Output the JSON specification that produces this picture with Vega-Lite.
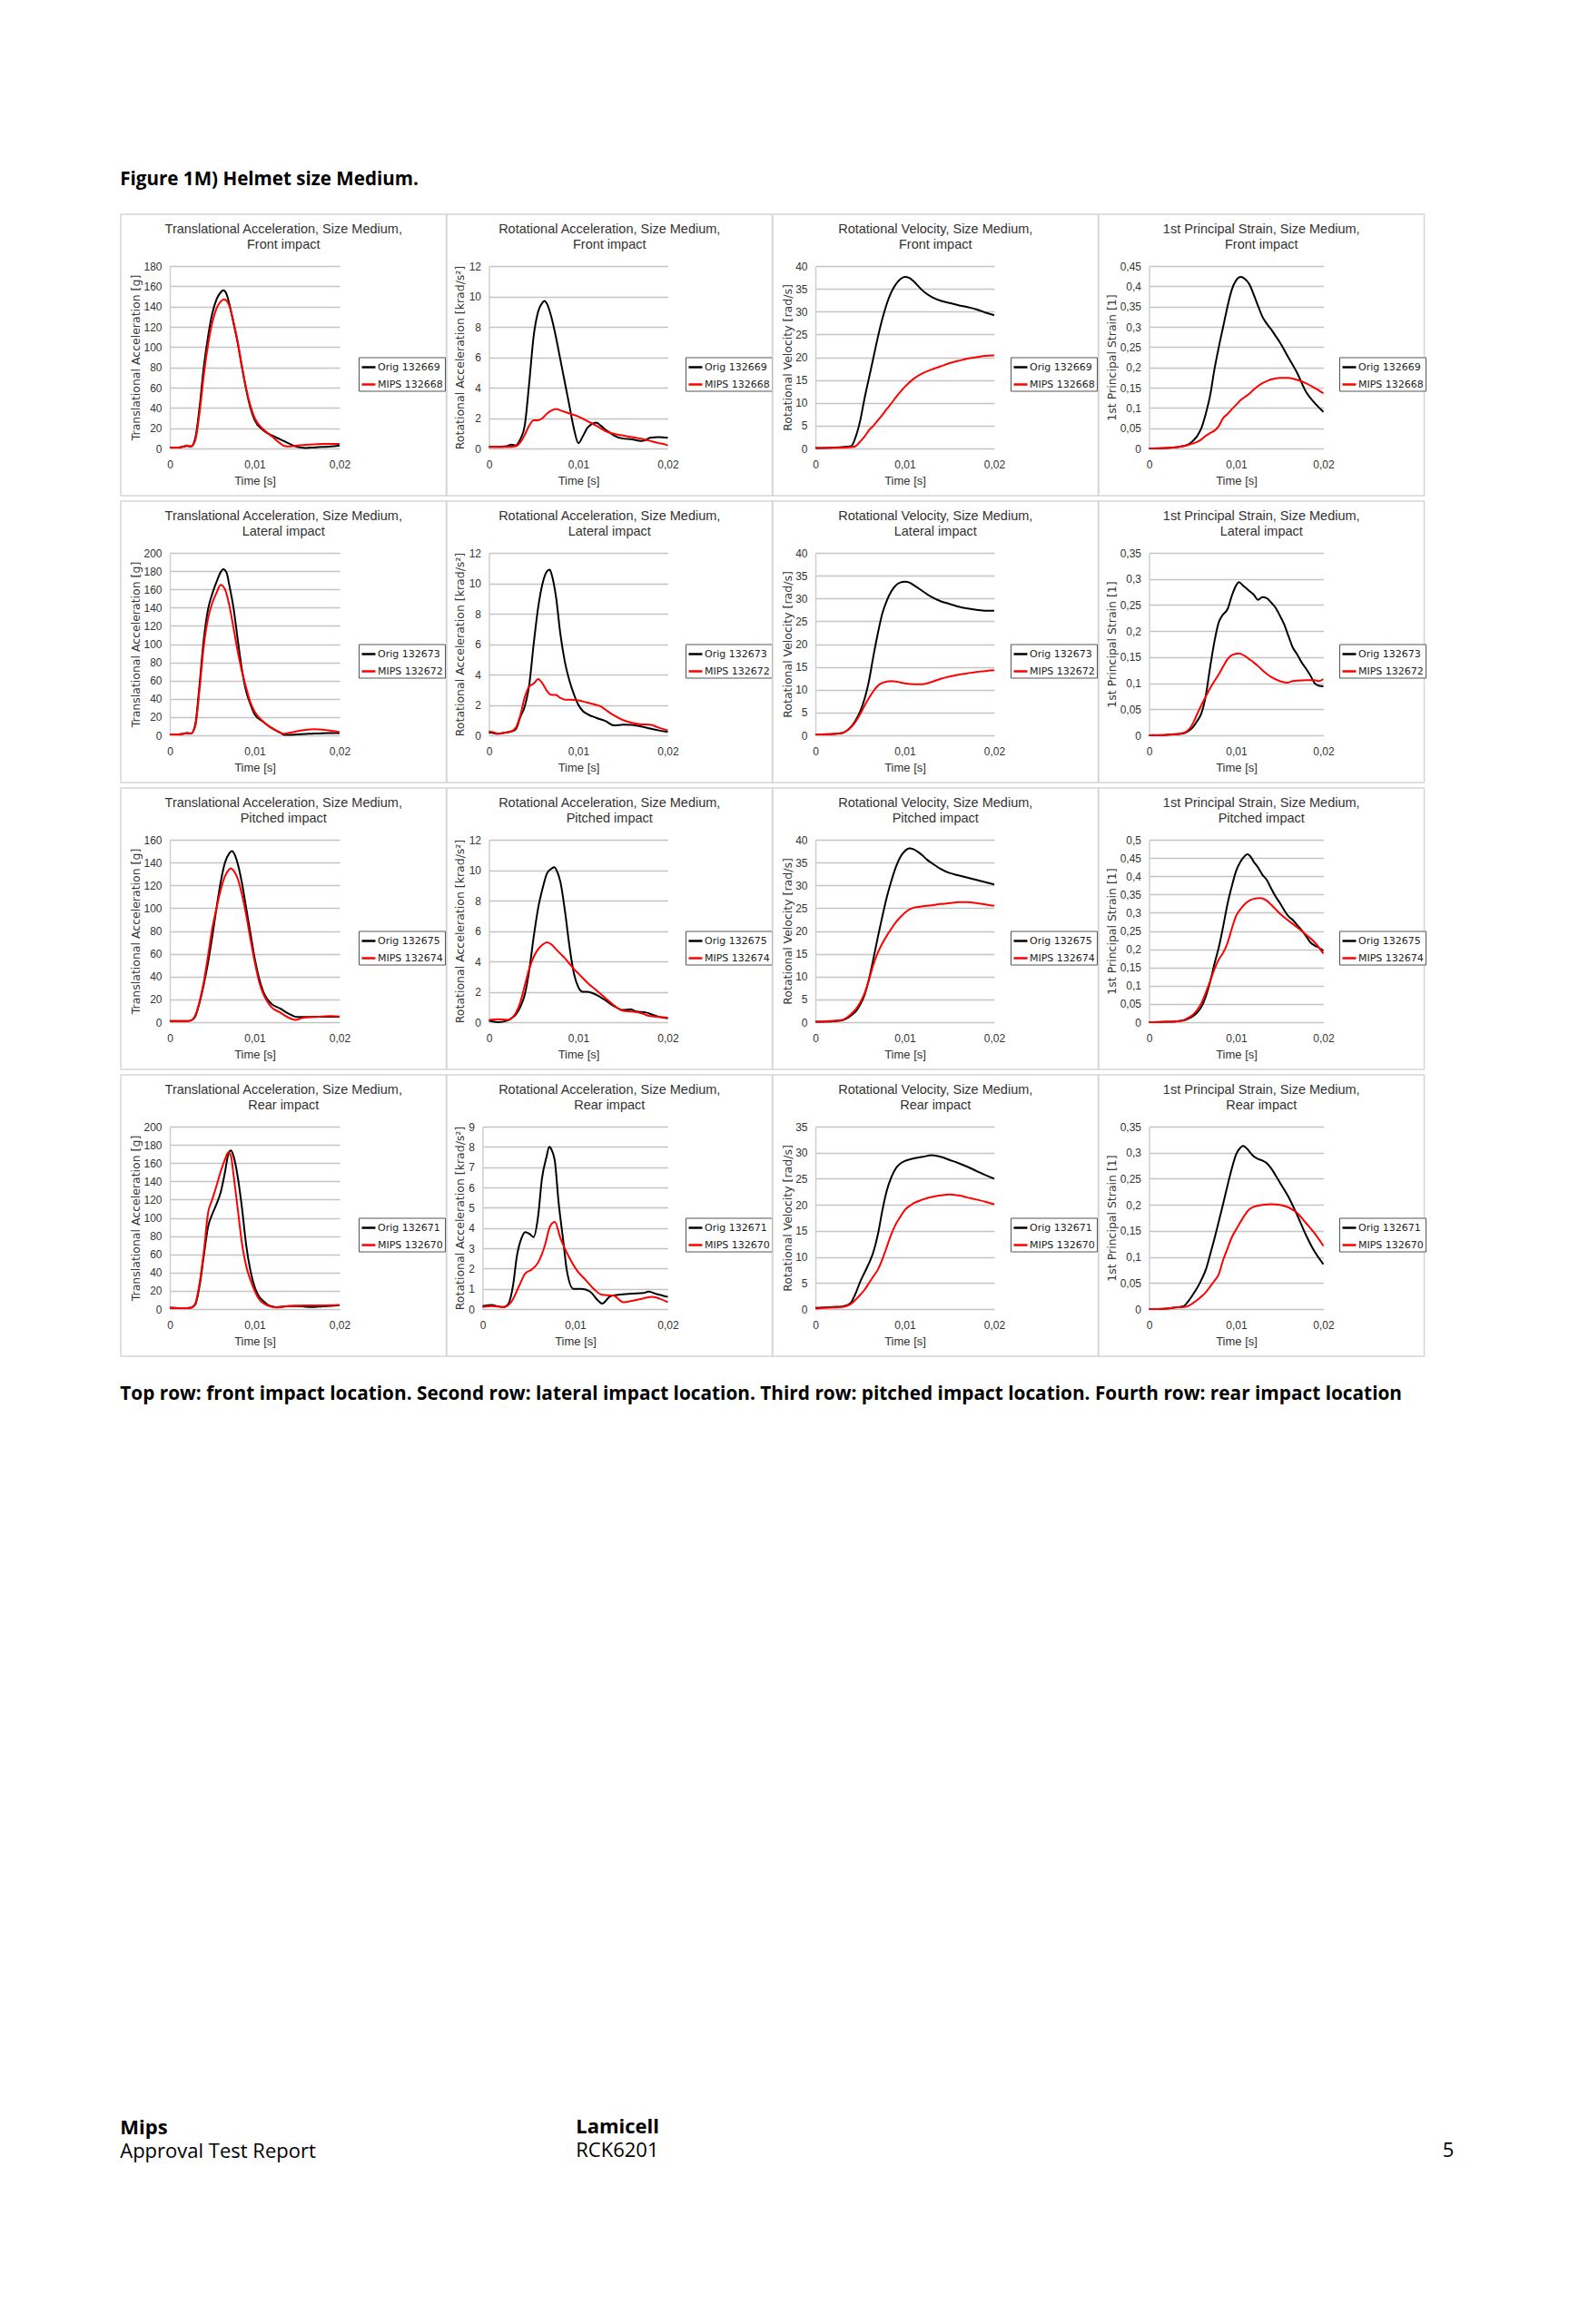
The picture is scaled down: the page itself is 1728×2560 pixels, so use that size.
{
"$schema":"https://vega.github.io/schema/vega-lite/v6.json",
"background":"white",
"padding":{"left":132,"top":187,"right":10,"bottom":10},
"title":{"text":"5","orient":"bottom","anchor":"end","frame":"bounds","font":"Open Sans","fontSize":22,"fontWeight":"normal","color":"#000000","offset":-22,"dx":30},
"vconcat":[
{"title":{"text":"Lamicell","subtitle":"RCK6201","orient":"bottom","anchor":"start","frame":"bounds","font":"Open Sans","fontSize":22,"fontWeight":"bold","color":"#000000","subtitleFont":"Open Sans","subtitleFontSize":22,"subtitleFontWeight":"normal","subtitleColor":"#000000","subtitlePadding":4,"offset":-48,"dx":502},
"vconcat":[
{"title":{"text":"Mips","subtitle":"Approval Test Report","orient":"bottom","anchor":"start","frame":"bounds","font":"Open Sans","fontSize":22,"fontWeight":"bold","color":"#000000","subtitleFont":"Open Sans","subtitleFontSize":22,"subtitleFontWeight":"normal","subtitleColor":"#000000","subtitlePadding":4,"offset":788},
"vconcat":[
{"title":{"text":"Top row: front impact location. Second row: lateral impact location. Third row: pitched impact location. Fourth row: rear impact location","orient":"bottom","anchor":"start","frame":"bounds","font":"Open Sans","fontSize":20.8,"fontWeight":"bold","color":"#000000","offset":31.5},
"vconcat":[
{"title":{"text":"Figure 1M) Helmet size Medium.","orient":"top","anchor":"start","frame":"bounds","font":"Open Sans","fontSize":20.6,"fontWeight":"bold","color":"#000000","offset":27},
"spacing":4,
"resolve":{"scale":{"color":"independent"},"legend":{"color":"independent"}},
"vconcat":[
{"hconcat":[
{"width":358.5,"height":310,"title":{"text":["Translational Acceleration, Size Medium,","Front impact"]},
"data":{"values":[
{"s":"Orig 132669","t":0,"v":1},{"s":"Orig 132669","t":0.001,"v":1},{"s":"Orig 132669","t":0.0015,"v":1.5},{"s":"Orig 132669","t":0.002,"v":2.5},{"s":"Orig 132669","t":0.0025,"v":2},{"s":"Orig 132669","t":0.003,"v":10},{"s":"Orig 132669","t":0.0035,"v":40},{"s":"Orig 132669","t":0.004,"v":80},{"s":"Orig 132669","t":0.0045,"v":110},{"s":"Orig 132669","t":0.005,"v":133},{"s":"Orig 132669","t":0.0055,"v":147},{"s":"Orig 132669","t":0.006,"v":154},{"s":"Orig 132669","t":0.0063,"v":156},{"s":"Orig 132669","t":0.0067,"v":152},{"s":"Orig 132669","t":0.007,"v":143},{"s":"Orig 132669","t":0.0075,"v":124},{"s":"Orig 132669","t":0.008,"v":104},{"s":"Orig 132669","t":0.0085,"v":80},{"s":"Orig 132669","t":0.009,"v":58},{"s":"Orig 132669","t":0.0095,"v":40},{"s":"Orig 132669","t":0.01,"v":28},{"s":"Orig 132669","t":0.011,"v":18},{"s":"Orig 132669","t":0.012,"v":13},{"s":"Orig 132669","t":0.013,"v":9},{"s":"Orig 132669","t":0.014,"v":5},{"s":"Orig 132669","t":0.015,"v":1.5},{"s":"Orig 132669","t":0.016,"v":0.5},{"s":"Orig 132669","t":0.017,"v":1},{"s":"Orig 132669","t":0.018,"v":1.5},{"s":"Orig 132669","t":0.019,"v":2},{"s":"Orig 132669","t":0.02,"v":3},
{"s":"MIPS 132668","t":0,"v":1},{"s":"MIPS 132668","t":0.001,"v":1},{"s":"MIPS 132668","t":0.0015,"v":1.5},{"s":"MIPS 132668","t":0.002,"v":3},{"s":"MIPS 132668","t":0.0025,"v":2},{"s":"MIPS 132668","t":0.003,"v":8},{"s":"MIPS 132668","t":0.0035,"v":35},{"s":"MIPS 132668","t":0.004,"v":72},{"s":"MIPS 132668","t":0.0045,"v":102},{"s":"MIPS 132668","t":0.005,"v":124},{"s":"MIPS 132668","t":0.0055,"v":138},{"s":"MIPS 132668","t":0.006,"v":145},{"s":"MIPS 132668","t":0.0064,"v":147},{"s":"MIPS 132668","t":0.007,"v":141},{"s":"MIPS 132668","t":0.0075,"v":125},{"s":"MIPS 132668","t":0.008,"v":105},{"s":"MIPS 132668","t":0.0085,"v":81},{"s":"MIPS 132668","t":0.009,"v":59},{"s":"MIPS 132668","t":0.0095,"v":42},{"s":"MIPS 132668","t":0.01,"v":30},{"s":"MIPS 132668","t":0.011,"v":19},{"s":"MIPS 132668","t":0.012,"v":12},{"s":"MIPS 132668","t":0.013,"v":5},{"s":"MIPS 132668","t":0.0135,"v":2.5},{"s":"MIPS 132668","t":0.014,"v":2},{"s":"MIPS 132668","t":0.015,"v":3},{"s":"MIPS 132668","t":0.016,"v":3.5},{"s":"MIPS 132668","t":0.017,"v":4},{"s":"MIPS 132668","t":0.018,"v":4.5},{"s":"MIPS 132668","t":0.019,"v":4.5},{"s":"MIPS 132668","t":0.02,"v":4.5}
]},
"mark":{"type":"line","interpolate":"monotone","strokeWidth":2},
"encoding":{
"x":{"field":"t","type":"quantitative","title":"Time [s]","scale":{"domain":[0,0.02],"range":[54,241],"nice":false},"axis":{"values":[0,0.01,0.02],"labelExpr":"replace(format(datum.value,'~g'),'.',',')"}},
"y":{"field":"v","type":"quantitative","title":"Translational Acceleration [g]","scale":{"domain":[0,180],"range":[258,57],"nice":false},"axis":{"values":[0,20,40,60,80,100,120,140,160,180],"offset":-54,"titleX":-38,"labelExpr":"replace(format(datum.value,'~g'),'.',',')"}},
"color":{"field":"s","type":"nominal","scale":{"domain":["Orig 132669","MIPS 132668"],"range":["#000000","#ff0000"]},"legend":{"title":null,"orient":"none","legendX":262,"legendY":157.5}}}},
{"width":358.5,"height":310,"title":{"text":["Rotational Acceleration, Size Medium,","Front impact"]},
"data":{"values":[
{"s":"Orig 132669","t":0,"v":0.1},{"s":"Orig 132669","t":0.001,"v":0.1},{"s":"Orig 132669","t":0.002,"v":0.15},{"s":"Orig 132669","t":0.0025,"v":0.25},{"s":"Orig 132669","t":0.003,"v":0.2},{"s":"Orig 132669","t":0.0035,"v":0.6},{"s":"Orig 132669","t":0.004,"v":1.5},{"s":"Orig 132669","t":0.0045,"v":4.3},{"s":"Orig 132669","t":0.005,"v":7.4},{"s":"Orig 132669","t":0.0055,"v":9},{"s":"Orig 132669","t":0.006,"v":9.6},{"s":"Orig 132669","t":0.0062,"v":9.7},{"s":"Orig 132669","t":0.0065,"v":9.5},{"s":"Orig 132669","t":0.007,"v":8.6},{"s":"Orig 132669","t":0.0075,"v":7.3},{"s":"Orig 132669","t":0.008,"v":5.8},{"s":"Orig 132669","t":0.0085,"v":4.3},{"s":"Orig 132669","t":0.009,"v":2.8},{"s":"Orig 132669","t":0.0095,"v":1.3},{"s":"Orig 132669","t":0.01,"v":0.35},{"s":"Orig 132669","t":0.0105,"v":0.8},{"s":"Orig 132669","t":0.011,"v":1.35},{"s":"Orig 132669","t":0.0115,"v":1.6},{"s":"Orig 132669","t":0.012,"v":1.7},{"s":"Orig 132669","t":0.0125,"v":1.5},{"s":"Orig 132669","t":0.013,"v":1.25},{"s":"Orig 132669","t":0.0135,"v":1.05},{"s":"Orig 132669","t":0.014,"v":0.85},{"s":"Orig 132669","t":0.015,"v":0.65},{"s":"Orig 132669","t":0.016,"v":0.6},{"s":"Orig 132669","t":0.017,"v":0.5},{"s":"Orig 132669","t":0.0175,"v":0.55},{"s":"Orig 132669","t":0.018,"v":0.7},{"s":"Orig 132669","t":0.019,"v":0.75},{"s":"Orig 132669","t":0.02,"v":0.7},
{"s":"MIPS 132668","t":0,"v":0.1},{"s":"MIPS 132668","t":0.001,"v":0.1},{"s":"MIPS 132668","t":0.002,"v":0.1},{"s":"MIPS 132668","t":0.003,"v":0.15},{"s":"MIPS 132668","t":0.0035,"v":0.4},{"s":"MIPS 132668","t":0.004,"v":0.9},{"s":"MIPS 132668","t":0.0045,"v":1.5},{"s":"MIPS 132668","t":0.005,"v":1.85},{"s":"MIPS 132668","t":0.0055,"v":1.85},{"s":"MIPS 132668","t":0.006,"v":2},{"s":"MIPS 132668","t":0.0065,"v":2.3},{"s":"MIPS 132668","t":0.007,"v":2.5},{"s":"MIPS 132668","t":0.0075,"v":2.6},{"s":"MIPS 132668","t":0.008,"v":2.5},{"s":"MIPS 132668","t":0.009,"v":2.3},{"s":"MIPS 132668","t":0.01,"v":2.1},{"s":"MIPS 132668","t":0.011,"v":1.8},{"s":"MIPS 132668","t":0.012,"v":1.5},{"s":"MIPS 132668","t":0.013,"v":1.15},{"s":"MIPS 132668","t":0.014,"v":0.95},{"s":"MIPS 132668","t":0.015,"v":0.85},{"s":"MIPS 132668","t":0.016,"v":0.75},{"s":"MIPS 132668","t":0.017,"v":0.65},{"s":"MIPS 132668","t":0.018,"v":0.5},{"s":"MIPS 132668","t":0.019,"v":0.35},{"s":"MIPS 132668","t":0.0195,"v":0.3},{"s":"MIPS 132668","t":0.02,"v":0.2}
]},
"mark":{"type":"line","interpolate":"monotone","strokeWidth":2},
"encoding":{
"x":{"field":"t","type":"quantitative","title":"Time [s]","scale":{"domain":[0,0.02],"range":[46.5,243.5],"nice":false},"axis":{"values":[0,0.01,0.02],"labelExpr":"replace(format(datum.value,'~g'),'.',',')"}},
"y":{"field":"v","type":"quantitative","title":"Rotational Acceleration [krad/s²]","scale":{"domain":[0,12],"range":[258,57],"nice":false},"axis":{"values":[0,2,4,6,8,10,12],"offset":-46.5,"titleX":-32,"labelExpr":"replace(format(datum.value,'~g'),'.',',')"}},
"color":{"field":"s","type":"nominal","scale":{"domain":["Orig 132669","MIPS 132668"],"range":["#000000","#ff0000"]},"legend":{"title":null,"orient":"none","legendX":263,"legendY":157.5}}}},
{"width":358.5,"height":310,"title":{"text":["Rotational Velocity, Size Medium,","Front impact"]},
"data":{"values":[
{"s":"Orig 132669","t":0,"v":0.1},{"s":"Orig 132669","t":0.002,"v":0.2},{"s":"Orig 132669","t":0.003,"v":0.3},{"s":"Orig 132669","t":0.004,"v":0.5},{"s":"Orig 132669","t":0.0045,"v":2.5},{"s":"Orig 132669","t":0.005,"v":6},{"s":"Orig 132669","t":0.0055,"v":11},{"s":"Orig 132669","t":0.006,"v":15.5},{"s":"Orig 132669","t":0.0065,"v":20},{"s":"Orig 132669","t":0.007,"v":24.5},{"s":"Orig 132669","t":0.0075,"v":28.5},{"s":"Orig 132669","t":0.008,"v":31.8},{"s":"Orig 132669","t":0.0085,"v":34.3},{"s":"Orig 132669","t":0.009,"v":36},{"s":"Orig 132669","t":0.0095,"v":37.1},{"s":"Orig 132669","t":0.01,"v":37.6},{"s":"Orig 132669","t":0.0105,"v":37.4},{"s":"Orig 132669","t":0.011,"v":36.6},{"s":"Orig 132669","t":0.0115,"v":35.6},{"s":"Orig 132669","t":0.012,"v":34.6},{"s":"Orig 132669","t":0.013,"v":33.2},{"s":"Orig 132669","t":0.014,"v":32.4},{"s":"Orig 132669","t":0.015,"v":31.9},{"s":"Orig 132669","t":0.016,"v":31.4},{"s":"Orig 132669","t":0.017,"v":31},{"s":"Orig 132669","t":0.018,"v":30.5},{"s":"Orig 132669","t":0.019,"v":29.8},{"s":"Orig 132669","t":0.02,"v":29.2},
{"s":"MIPS 132668","t":0,"v":0.1},{"s":"MIPS 132668","t":0.002,"v":0.15},{"s":"MIPS 132668","t":0.003,"v":0.2},{"s":"MIPS 132668","t":0.004,"v":0.3},{"s":"MIPS 132668","t":0.0045,"v":0.5},{"s":"MIPS 132668","t":0.005,"v":1.5},{"s":"MIPS 132668","t":0.0055,"v":2.6},{"s":"MIPS 132668","t":0.006,"v":4},{"s":"MIPS 132668","t":0.0065,"v":5},{"s":"MIPS 132668","t":0.007,"v":6.2},{"s":"MIPS 132668","t":0.0075,"v":7.4},{"s":"MIPS 132668","t":0.008,"v":8.7},{"s":"MIPS 132668","t":0.0085,"v":9.9},{"s":"MIPS 132668","t":0.009,"v":11.2},{"s":"MIPS 132668","t":0.0095,"v":12.4},{"s":"MIPS 132668","t":0.01,"v":13.5},{"s":"MIPS 132668","t":0.011,"v":15.3},{"s":"MIPS 132668","t":0.012,"v":16.5},{"s":"MIPS 132668","t":0.013,"v":17.3},{"s":"MIPS 132668","t":0.014,"v":18},{"s":"MIPS 132668","t":0.015,"v":18.7},{"s":"MIPS 132668","t":0.016,"v":19.2},{"s":"MIPS 132668","t":0.017,"v":19.7},{"s":"MIPS 132668","t":0.018,"v":20},{"s":"MIPS 132668","t":0.019,"v":20.3},{"s":"MIPS 132668","t":0.02,"v":20.4}
]},
"mark":{"type":"line","interpolate":"monotone","strokeWidth":2},
"encoding":{
"x":{"field":"t","type":"quantitative","title":"Time [s]","scale":{"domain":[0,0.02],"range":[47,244],"nice":false},"axis":{"values":[0,0.01,0.02],"labelExpr":"replace(format(datum.value,'~g'),'.',',')"}},
"y":{"field":"v","type":"quantitative","title":"Rotational Velocity [rad/s]","scale":{"domain":[0,40],"range":[258,57],"nice":false},"axis":{"values":[0,5,10,15,20,25,30,35,40],"offset":-47,"titleX":-31,"labelExpr":"replace(format(datum.value,'~g'),'.',',')"}},
"color":{"field":"s","type":"nominal","scale":{"domain":["Orig 132669","MIPS 132668"],"range":["#000000","#ff0000"]},"legend":{"title":null,"orient":"none","legendX":262,"legendY":157.5}}}},
{"width":358.5,"height":310,"title":{"text":["1st Principal Strain, Size Medium,","Front impact"]},
"data":{"values":[
{"s":"Orig 132669","t":0,"v":0},{"s":"Orig 132669","t":0.002,"v":0.001},{"s":"Orig 132669","t":0.003,"v":0.003},{"s":"Orig 132669","t":0.004,"v":0.006},{"s":"Orig 132669","t":0.0045,"v":0.01},{"s":"Orig 132669","t":0.005,"v":0.018},{"s":"Orig 132669","t":0.0055,"v":0.03},{"s":"Orig 132669","t":0.006,"v":0.05},{"s":"Orig 132669","t":0.0065,"v":0.085},{"s":"Orig 132669","t":0.007,"v":0.13},{"s":"Orig 132669","t":0.0075,"v":0.195},{"s":"Orig 132669","t":0.008,"v":0.25},{"s":"Orig 132669","t":0.0085,"v":0.3},{"s":"Orig 132669","t":0.009,"v":0.35},{"s":"Orig 132669","t":0.0095,"v":0.392},{"s":"Orig 132669","t":0.01,"v":0.415},{"s":"Orig 132669","t":0.0105,"v":0.423},{"s":"Orig 132669","t":0.011,"v":0.418},{"s":"Orig 132669","t":0.0115,"v":0.405},{"s":"Orig 132669","t":0.012,"v":0.38},{"s":"Orig 132669","t":0.0125,"v":0.352},{"s":"Orig 132669","t":0.013,"v":0.325},{"s":"Orig 132669","t":0.0135,"v":0.308},{"s":"Orig 132669","t":0.014,"v":0.294},{"s":"Orig 132669","t":0.0145,"v":0.278},{"s":"Orig 132669","t":0.015,"v":0.262},{"s":"Orig 132669","t":0.016,"v":0.224},{"s":"Orig 132669","t":0.017,"v":0.186},{"s":"Orig 132669","t":0.018,"v":0.14},{"s":"Orig 132669","t":0.019,"v":0.112},{"s":"Orig 132669","t":0.02,"v":0.09},
{"s":"MIPS 132668","t":0,"v":0},{"s":"MIPS 132668","t":0.002,"v":0.001},{"s":"MIPS 132668","t":0.003,"v":0.003},{"s":"MIPS 132668","t":0.004,"v":0.006},{"s":"MIPS 132668","t":0.0045,"v":0.009},{"s":"MIPS 132668","t":0.005,"v":0.012},{"s":"MIPS 132668","t":0.0055,"v":0.016},{"s":"MIPS 132668","t":0.006,"v":0.022},{"s":"MIPS 132668","t":0.0065,"v":0.031},{"s":"MIPS 132668","t":0.007,"v":0.038},{"s":"MIPS 132668","t":0.0075,"v":0.044},{"s":"MIPS 132668","t":0.008,"v":0.055},{"s":"MIPS 132668","t":0.0085,"v":0.075},{"s":"MIPS 132668","t":0.009,"v":0.085},{"s":"MIPS 132668","t":0.0095,"v":0.097},{"s":"MIPS 132668","t":0.01,"v":0.108},{"s":"MIPS 132668","t":0.0105,"v":0.119},{"s":"MIPS 132668","t":0.011,"v":0.127},{"s":"MIPS 132668","t":0.0115,"v":0.135},{"s":"MIPS 132668","t":0.012,"v":0.145},{"s":"MIPS 132668","t":0.0125,"v":0.154},{"s":"MIPS 132668","t":0.013,"v":0.161},{"s":"MIPS 132668","t":0.0135,"v":0.166},{"s":"MIPS 132668","t":0.014,"v":0.17},{"s":"MIPS 132668","t":0.015,"v":0.174},{"s":"MIPS 132668","t":0.016,"v":0.174},{"s":"MIPS 132668","t":0.017,"v":0.169},{"s":"MIPS 132668","t":0.018,"v":0.161},{"s":"MIPS 132668","t":0.019,"v":0.149},{"s":"MIPS 132668","t":0.02,"v":0.136}
]},
"mark":{"type":"line","interpolate":"monotone","strokeWidth":2},
"encoding":{
"x":{"field":"t","type":"quantitative","title":"Time [s]","scale":{"domain":[0,0.02],"range":[55.5,247.5],"nice":false},"axis":{"values":[0,0.01,0.02],"labelExpr":"replace(format(datum.value,'~g'),'.',',')"}},
"y":{"field":"v","type":"quantitative","title":"1st Principal Strain [1]","scale":{"domain":[0,0.45],"range":[258,57],"nice":false},"axis":{"values":[0,0.05,0.1,0.15,0.2,0.25,0.3,0.35,0.4,0.45],"offset":-55.5,"titleX":-41,"labelExpr":"replace(format(datum.value,'~g'),'.',',')"}},
"color":{"field":"s","type":"nominal","scale":{"domain":["Orig 132669","MIPS 132668"],"range":["#000000","#ff0000"]},"legend":{"title":null,"orient":"none","legendX":265,"legendY":157.5}}}}
],"spacing":0,"bounds":"flush","resolve":{"scale":{"color":"independent"},"legend":{"color":"independent"}}},
{"hconcat":[
{"width":358.5,"height":310,"title":{"text":["Translational Acceleration, Size Medium,","Lateral impact"]},
"data":{"values":[
{"s":"Orig 132673","t":0,"v":1},{"s":"Orig 132673","t":0.001,"v":1},{"s":"Orig 132673","t":0.0015,"v":1.5},{"s":"Orig 132673","t":0.002,"v":2.5},{"s":"Orig 132673","t":0.0025,"v":2},{"s":"Orig 132673","t":0.003,"v":12},{"s":"Orig 132673","t":0.0035,"v":55},{"s":"Orig 132673","t":0.004,"v":105},{"s":"Orig 132673","t":0.0045,"v":138},{"s":"Orig 132673","t":0.005,"v":155},{"s":"Orig 132673","t":0.0055,"v":168},{"s":"Orig 132673","t":0.006,"v":179},{"s":"Orig 132673","t":0.0063,"v":182},{"s":"Orig 132673","t":0.0067,"v":178},{"s":"Orig 132673","t":0.007,"v":165},{"s":"Orig 132673","t":0.0075,"v":140},{"s":"Orig 132673","t":0.008,"v":105},{"s":"Orig 132673","t":0.0085,"v":72},{"s":"Orig 132673","t":0.009,"v":48},{"s":"Orig 132673","t":0.0095,"v":34},{"s":"Orig 132673","t":0.01,"v":23},{"s":"Orig 132673","t":0.011,"v":15},{"s":"Orig 132673","t":0.012,"v":8},{"s":"Orig 132673","t":0.013,"v":3},{"s":"Orig 132673","t":0.0135,"v":0.5},{"s":"Orig 132673","t":0.014,"v":0.5},{"s":"Orig 132673","t":0.015,"v":1},{"s":"Orig 132673","t":0.016,"v":1.5},{"s":"Orig 132673","t":0.017,"v":2},{"s":"Orig 132673","t":0.018,"v":2.3},{"s":"Orig 132673","t":0.019,"v":2.5},{"s":"Orig 132673","t":0.02,"v":2.6},
{"s":"MIPS 132672","t":0,"v":1},{"s":"MIPS 132672","t":0.001,"v":1},{"s":"MIPS 132672","t":0.0015,"v":1.5},{"s":"MIPS 132672","t":0.002,"v":2.5},{"s":"MIPS 132672","t":0.0025,"v":2},{"s":"MIPS 132672","t":0.003,"v":10},{"s":"MIPS 132672","t":0.0035,"v":50},{"s":"MIPS 132672","t":0.004,"v":98},{"s":"MIPS 132672","t":0.0045,"v":128},{"s":"MIPS 132672","t":0.005,"v":145},{"s":"MIPS 132672","t":0.0055,"v":156},{"s":"MIPS 132672","t":0.006,"v":165},{"s":"MIPS 132672","t":0.0065,"v":160},{"s":"MIPS 132672","t":0.007,"v":143},{"s":"MIPS 132672","t":0.0075,"v":118},{"s":"MIPS 132672","t":0.008,"v":92},{"s":"MIPS 132672","t":0.0085,"v":70},{"s":"MIPS 132672","t":0.009,"v":52},{"s":"MIPS 132672","t":0.0095,"v":36},{"s":"MIPS 132672","t":0.01,"v":26},{"s":"MIPS 132672","t":0.011,"v":15},{"s":"MIPS 132672","t":0.012,"v":8},{"s":"MIPS 132672","t":0.013,"v":3},{"s":"MIPS 132672","t":0.0135,"v":1.7},{"s":"MIPS 132672","t":0.014,"v":2.5},{"s":"MIPS 132672","t":0.015,"v":4.5},{"s":"MIPS 132672","t":0.016,"v":6},{"s":"MIPS 132672","t":0.017,"v":6.6},{"s":"MIPS 132672","t":0.018,"v":6.2},{"s":"MIPS 132672","t":0.019,"v":5},{"s":"MIPS 132672","t":0.02,"v":3.5}
]},
"mark":{"type":"line","interpolate":"monotone","strokeWidth":2},
"encoding":{
"x":{"field":"t","type":"quantitative","title":"Time [s]","scale":{"domain":[0,0.02],"range":[54,241],"nice":false},"axis":{"values":[0,0.01,0.02],"labelExpr":"replace(format(datum.value,'~g'),'.',',')"}},
"y":{"field":"v","type":"quantitative","title":"Translational Acceleration [g]","scale":{"domain":[0,200],"range":[258,57],"nice":false},"axis":{"values":[0,20,40,60,80,100,120,140,160,180,200],"offset":-54,"titleX":-38,"labelExpr":"replace(format(datum.value,'~g'),'.',',')"}},
"color":{"field":"s","type":"nominal","scale":{"domain":["Orig 132673","MIPS 132672"],"range":["#000000","#ff0000"]},"legend":{"title":null,"orient":"none","legendX":262,"legendY":157.5}}}},
{"width":358.5,"height":310,"title":{"text":["Rotational Acceleration, Size Medium,","Lateral impact"]},
"data":{"values":[
{"s":"Orig 132673","t":0,"v":0.2},{"s":"Orig 132673","t":0.0005,"v":0.15},{"s":"Orig 132673","t":0.001,"v":0.1},{"s":"Orig 132673","t":0.002,"v":0.2},{"s":"Orig 132673","t":0.0025,"v":0.25},{"s":"Orig 132673","t":0.003,"v":0.4},{"s":"Orig 132673","t":0.0035,"v":1.2},{"s":"Orig 132673","t":0.004,"v":1.9},{"s":"Orig 132673","t":0.0045,"v":3.3},{"s":"Orig 132673","t":0.005,"v":6},{"s":"Orig 132673","t":0.0055,"v":8.4},{"s":"Orig 132673","t":0.006,"v":10},{"s":"Orig 132673","t":0.0065,"v":10.8},{"s":"Orig 132673","t":0.0068,"v":10.9},{"s":"Orig 132673","t":0.007,"v":10.6},{"s":"Orig 132673","t":0.0075,"v":9.1},{"s":"Orig 132673","t":0.008,"v":6.6},{"s":"Orig 132673","t":0.0085,"v":4.8},{"s":"Orig 132673","t":0.009,"v":3.6},{"s":"Orig 132673","t":0.0095,"v":2.7},{"s":"Orig 132673","t":0.01,"v":2},{"s":"Orig 132673","t":0.0105,"v":1.6},{"s":"Orig 132673","t":0.011,"v":1.4},{"s":"Orig 132673","t":0.012,"v":1.15},{"s":"Orig 132673","t":0.013,"v":0.95},{"s":"Orig 132673","t":0.014,"v":0.65},{"s":"Orig 132673","t":0.015,"v":0.7},{"s":"Orig 132673","t":0.016,"v":0.68},{"s":"Orig 132673","t":0.017,"v":0.58},{"s":"Orig 132673","t":0.018,"v":0.45},{"s":"Orig 132673","t":0.019,"v":0.32},{"s":"Orig 132673","t":0.02,"v":0.22},
{"s":"MIPS 132672","t":0,"v":0.25},{"s":"MIPS 132672","t":0.0005,"v":0.2},{"s":"MIPS 132672","t":0.001,"v":0.1},{"s":"MIPS 132672","t":0.002,"v":0.2},{"s":"MIPS 132672","t":0.0025,"v":0.25},{"s":"MIPS 132672","t":0.003,"v":0.5},{"s":"MIPS 132672","t":0.0035,"v":1.3},{"s":"MIPS 132672","t":0.004,"v":2.5},{"s":"MIPS 132672","t":0.0045,"v":3.2},{"s":"MIPS 132672","t":0.005,"v":3.4},{"s":"MIPS 132672","t":0.0055,"v":3.7},{"s":"MIPS 132672","t":0.006,"v":3.4},{"s":"MIPS 132672","t":0.0065,"v":2.9},{"s":"MIPS 132672","t":0.007,"v":2.65},{"s":"MIPS 132672","t":0.0075,"v":2.65},{"s":"MIPS 132672","t":0.008,"v":2.45},{"s":"MIPS 132672","t":0.0085,"v":2.35},{"s":"MIPS 132672","t":0.009,"v":2.35},{"s":"MIPS 132672","t":0.01,"v":2.3},{"s":"MIPS 132672","t":0.011,"v":2.15},{"s":"MIPS 132672","t":0.012,"v":2},{"s":"MIPS 132672","t":0.0125,"v":1.9},{"s":"MIPS 132672","t":0.013,"v":1.7},{"s":"MIPS 132672","t":0.014,"v":1.3},{"s":"MIPS 132672","t":0.015,"v":1},{"s":"MIPS 132672","t":0.016,"v":0.82},{"s":"MIPS 132672","t":0.017,"v":0.72},{"s":"MIPS 132672","t":0.018,"v":0.7},{"s":"MIPS 132672","t":0.019,"v":0.5},{"s":"MIPS 132672","t":0.02,"v":0.32}
]},
"mark":{"type":"line","interpolate":"monotone","strokeWidth":2},
"encoding":{
"x":{"field":"t","type":"quantitative","title":"Time [s]","scale":{"domain":[0,0.02],"range":[46.5,243.5],"nice":false},"axis":{"values":[0,0.01,0.02],"labelExpr":"replace(format(datum.value,'~g'),'.',',')"}},
"y":{"field":"v","type":"quantitative","title":"Rotational Acceleration [krad/s²]","scale":{"domain":[0,12],"range":[258,57],"nice":false},"axis":{"values":[0,2,4,6,8,10,12],"offset":-46.5,"titleX":-32,"labelExpr":"replace(format(datum.value,'~g'),'.',',')"}},
"color":{"field":"s","type":"nominal","scale":{"domain":["Orig 132673","MIPS 132672"],"range":["#000000","#ff0000"]},"legend":{"title":null,"orient":"none","legendX":263,"legendY":157.5}}}},
{"width":358.5,"height":310,"title":{"text":["Rotational Velocity, Size Medium,","Lateral impact"]},
"data":{"values":[
{"s":"Orig 132673","t":0,"v":0.2},{"s":"Orig 132673","t":0.002,"v":0.3},{"s":"Orig 132673","t":0.003,"v":0.5},{"s":"Orig 132673","t":0.0035,"v":1},{"s":"Orig 132673","t":0.004,"v":1.9},{"s":"Orig 132673","t":0.0045,"v":3.3},{"s":"Orig 132673","t":0.005,"v":5.2},{"s":"Orig 132673","t":0.0055,"v":8},{"s":"Orig 132673","t":0.006,"v":12},{"s":"Orig 132673","t":0.0065,"v":17.5},{"s":"Orig 132673","t":0.007,"v":22.5},{"s":"Orig 132673","t":0.0075,"v":26.8},{"s":"Orig 132673","t":0.008,"v":29.6},{"s":"Orig 132673","t":0.0085,"v":31.6},{"s":"Orig 132673","t":0.009,"v":32.9},{"s":"Orig 132673","t":0.0095,"v":33.5},{"s":"Orig 132673","t":0.01,"v":33.7},{"s":"Orig 132673","t":0.0105,"v":33.5},{"s":"Orig 132673","t":0.011,"v":32.9},{"s":"Orig 132673","t":0.012,"v":31.6},{"s":"Orig 132673","t":0.013,"v":30.3},{"s":"Orig 132673","t":0.014,"v":29.4},{"s":"Orig 132673","t":0.015,"v":28.8},{"s":"Orig 132673","t":0.016,"v":28.2},{"s":"Orig 132673","t":0.017,"v":27.8},{"s":"Orig 132673","t":0.018,"v":27.5},{"s":"Orig 132673","t":0.019,"v":27.3},{"s":"Orig 132673","t":0.02,"v":27.3},
{"s":"MIPS 132672","t":0,"v":0.2},{"s":"MIPS 132672","t":0.002,"v":0.3},{"s":"MIPS 132672","t":0.003,"v":0.5},{"s":"MIPS 132672","t":0.0035,"v":1},{"s":"MIPS 132672","t":0.004,"v":1.8},{"s":"MIPS 132672","t":0.0045,"v":3},{"s":"MIPS 132672","t":0.005,"v":4.6},{"s":"MIPS 132672","t":0.0055,"v":6.5},{"s":"MIPS 132672","t":0.006,"v":8.2},{"s":"MIPS 132672","t":0.0065,"v":9.7},{"s":"MIPS 132672","t":0.007,"v":10.9},{"s":"MIPS 132672","t":0.0075,"v":11.5},{"s":"MIPS 132672","t":0.008,"v":11.8},{"s":"MIPS 132672","t":0.0085,"v":11.9},{"s":"MIPS 132672","t":0.009,"v":11.8},{"s":"MIPS 132672","t":0.0095,"v":11.6},{"s":"MIPS 132672","t":0.01,"v":11.4},{"s":"MIPS 132672","t":0.011,"v":11.2},{"s":"MIPS 132672","t":0.012,"v":11.2},{"s":"MIPS 132672","t":0.013,"v":11.7},{"s":"MIPS 132672","t":0.014,"v":12.4},{"s":"MIPS 132672","t":0.015,"v":12.9},{"s":"MIPS 132672","t":0.016,"v":13.3},{"s":"MIPS 132672","t":0.017,"v":13.6},{"s":"MIPS 132672","t":0.018,"v":13.9},{"s":"MIPS 132672","t":0.019,"v":14.1},{"s":"MIPS 132672","t":0.02,"v":14.3}
]},
"mark":{"type":"line","interpolate":"monotone","strokeWidth":2},
"encoding":{
"x":{"field":"t","type":"quantitative","title":"Time [s]","scale":{"domain":[0,0.02],"range":[47,244],"nice":false},"axis":{"values":[0,0.01,0.02],"labelExpr":"replace(format(datum.value,'~g'),'.',',')"}},
"y":{"field":"v","type":"quantitative","title":"Rotational Velocity [rad/s]","scale":{"domain":[0,40],"range":[258,57],"nice":false},"axis":{"values":[0,5,10,15,20,25,30,35,40],"offset":-47,"titleX":-31,"labelExpr":"replace(format(datum.value,'~g'),'.',',')"}},
"color":{"field":"s","type":"nominal","scale":{"domain":["Orig 132673","MIPS 132672"],"range":["#000000","#ff0000"]},"legend":{"title":null,"orient":"none","legendX":262,"legendY":157.5}}}},
{"width":358.5,"height":310,"title":{"text":["1st Principal Strain, Size Medium,","Lateral impact"]},
"data":{"values":[
{"s":"Orig 132673","t":0,"v":0},{"s":"Orig 132673","t":0.002,"v":0.001},{"s":"Orig 132673","t":0.003,"v":0.002},{"s":"Orig 132673","t":0.004,"v":0.004},{"s":"Orig 132673","t":0.0045,"v":0.008},{"s":"Orig 132673","t":0.005,"v":0.015},{"s":"Orig 132673","t":0.0055,"v":0.027},{"s":"Orig 132673","t":0.006,"v":0.042},{"s":"Orig 132673","t":0.0065,"v":0.075},{"s":"Orig 132673","t":0.007,"v":0.13},{"s":"Orig 132673","t":0.0075,"v":0.18},{"s":"Orig 132673","t":0.008,"v":0.217},{"s":"Orig 132673","t":0.0085,"v":0.232},{"s":"Orig 132673","t":0.009,"v":0.242},{"s":"Orig 132673","t":0.0095,"v":0.268},{"s":"Orig 132673","t":0.01,"v":0.288},{"s":"Orig 132673","t":0.0103,"v":0.294},{"s":"Orig 132673","t":0.0108,"v":0.287},{"s":"Orig 132673","t":0.0115,"v":0.277},{"s":"Orig 132673","t":0.012,"v":0.27},{"s":"Orig 132673","t":0.0125,"v":0.26},{"s":"Orig 132673","t":0.013,"v":0.265},{"s":"Orig 132673","t":0.0135,"v":0.263},{"s":"Orig 132673","t":0.014,"v":0.255},{"s":"Orig 132673","t":0.0145,"v":0.245},{"s":"Orig 132673","t":0.015,"v":0.23},{"s":"Orig 132673","t":0.0155,"v":0.213},{"s":"Orig 132673","t":0.016,"v":0.19},{"s":"Orig 132673","t":0.0165,"v":0.168},{"s":"Orig 132673","t":0.017,"v":0.155},{"s":"Orig 132673","t":0.0175,"v":0.14},{"s":"Orig 132673","t":0.018,"v":0.128},{"s":"Orig 132673","t":0.0185,"v":0.115},{"s":"Orig 132673","t":0.019,"v":0.1},{"s":"Orig 132673","t":0.0195,"v":0.095},{"s":"Orig 132673","t":0.02,"v":0.094},
{"s":"MIPS 132672","t":0,"v":0},{"s":"MIPS 132672","t":0.002,"v":0.001},{"s":"MIPS 132672","t":0.003,"v":0.002},{"s":"MIPS 132672","t":0.004,"v":0.005},{"s":"MIPS 132672","t":0.0045,"v":0.01},{"s":"MIPS 132672","t":0.005,"v":0.022},{"s":"MIPS 132672","t":0.0055,"v":0.04},{"s":"MIPS 132672","t":0.006,"v":0.058},{"s":"MIPS 132672","t":0.0065,"v":0.074},{"s":"MIPS 132672","t":0.007,"v":0.09},{"s":"MIPS 132672","t":0.0075,"v":0.104},{"s":"MIPS 132672","t":0.008,"v":0.117},{"s":"MIPS 132672","t":0.0085,"v":0.132},{"s":"MIPS 132672","t":0.009,"v":0.146},{"s":"MIPS 132672","t":0.0095,"v":0.154},{"s":"MIPS 132672","t":0.0103,"v":0.157},{"s":"MIPS 132672","t":0.011,"v":0.152},{"s":"MIPS 132672","t":0.0115,"v":0.146},{"s":"MIPS 132672","t":0.012,"v":0.14},{"s":"MIPS 132672","t":0.0125,"v":0.133},{"s":"MIPS 132672","t":0.013,"v":0.125},{"s":"MIPS 132672","t":0.0135,"v":0.118},{"s":"MIPS 132672","t":0.014,"v":0.112},{"s":"MIPS 132672","t":0.015,"v":0.104},{"s":"MIPS 132672","t":0.0158,"v":0.101},{"s":"MIPS 132672","t":0.0165,"v":0.104},{"s":"MIPS 132672","t":0.017,"v":0.105},{"s":"MIPS 132672","t":0.018,"v":0.106},{"s":"MIPS 132672","t":0.019,"v":0.106},{"s":"MIPS 132672","t":0.0195,"v":0.104},{"s":"MIPS 132672","t":0.02,"v":0.108}
]},
"mark":{"type":"line","interpolate":"monotone","strokeWidth":2},
"encoding":{
"x":{"field":"t","type":"quantitative","title":"Time [s]","scale":{"domain":[0,0.02],"range":[55.5,247.5],"nice":false},"axis":{"values":[0,0.01,0.02],"labelExpr":"replace(format(datum.value,'~g'),'.',',')"}},
"y":{"field":"v","type":"quantitative","title":"1st Principal Strain [1]","scale":{"domain":[0,0.35],"range":[258,57],"nice":false},"axis":{"values":[0,0.05,0.1,0.15,0.2,0.25,0.3,0.35],"offset":-55.5,"titleX":-41,"labelExpr":"replace(format(datum.value,'~g'),'.',',')"}},
"color":{"field":"s","type":"nominal","scale":{"domain":["Orig 132673","MIPS 132672"],"range":["#000000","#ff0000"]},"legend":{"title":null,"orient":"none","legendX":265,"legendY":157.5}}}}
],"spacing":0,"bounds":"flush","resolve":{"scale":{"color":"independent"},"legend":{"color":"independent"}}},
{"hconcat":[
{"width":358.5,"height":310,"title":{"text":["Translational Acceleration, Size Medium,","Pitched impact"]},
"data":{"values":[
{"s":"Orig 132675","t":0,"v":1},{"s":"Orig 132675","t":0.001,"v":1},{"s":"Orig 132675","t":0.002,"v":1},{"s":"Orig 132675","t":0.0025,"v":1.5},{"s":"Orig 132675","t":0.003,"v":5},{"s":"Orig 132675","t":0.0035,"v":17},{"s":"Orig 132675","t":0.004,"v":33},{"s":"Orig 132675","t":0.0045,"v":52},{"s":"Orig 132675","t":0.005,"v":75},{"s":"Orig 132675","t":0.0055,"v":100},{"s":"Orig 132675","t":0.006,"v":123},{"s":"Orig 132675","t":0.0065,"v":140},{"s":"Orig 132675","t":0.007,"v":148},{"s":"Orig 132675","t":0.0073,"v":150},{"s":"Orig 132675","t":0.0077,"v":146},{"s":"Orig 132675","t":0.008,"v":139},{"s":"Orig 132675","t":0.0085,"v":122},{"s":"Orig 132675","t":0.009,"v":100},{"s":"Orig 132675","t":0.0095,"v":78},{"s":"Orig 132675","t":0.01,"v":56},{"s":"Orig 132675","t":0.0105,"v":39},{"s":"Orig 132675","t":0.011,"v":27},{"s":"Orig 132675","t":0.0115,"v":20},{"s":"Orig 132675","t":0.012,"v":16},{"s":"Orig 132675","t":0.013,"v":12},{"s":"Orig 132675","t":0.014,"v":7.5},{"s":"Orig 132675","t":0.015,"v":4.5},{"s":"Orig 132675","t":0.016,"v":4.5},{"s":"Orig 132675","t":0.017,"v":4.7},{"s":"Orig 132675","t":0.018,"v":4.7},{"s":"Orig 132675","t":0.019,"v":4.7},{"s":"Orig 132675","t":0.02,"v":4.7},
{"s":"MIPS 132674","t":0,"v":1},{"s":"MIPS 132674","t":0.001,"v":1},{"s":"MIPS 132674","t":0.002,"v":1},{"s":"MIPS 132674","t":0.0025,"v":1.5},{"s":"MIPS 132674","t":0.003,"v":6},{"s":"MIPS 132674","t":0.0035,"v":18},{"s":"MIPS 132674","t":0.004,"v":35},{"s":"MIPS 132674","t":0.0045,"v":58},{"s":"MIPS 132674","t":0.005,"v":82},{"s":"MIPS 132674","t":0.0055,"v":100},{"s":"MIPS 132674","t":0.006,"v":116},{"s":"MIPS 132674","t":0.0065,"v":128},{"s":"MIPS 132674","t":0.007,"v":134},{"s":"MIPS 132674","t":0.0072,"v":135},{"s":"MIPS 132674","t":0.0075,"v":133},{"s":"MIPS 132674","t":0.008,"v":126},{"s":"MIPS 132674","t":0.0085,"v":112},{"s":"MIPS 132674","t":0.009,"v":94},{"s":"MIPS 132674","t":0.0095,"v":73},{"s":"MIPS 132674","t":0.01,"v":53},{"s":"MIPS 132674","t":0.0105,"v":36},{"s":"MIPS 132674","t":0.011,"v":25},{"s":"MIPS 132674","t":0.0115,"v":18},{"s":"MIPS 132674","t":0.012,"v":13},{"s":"MIPS 132674","t":0.013,"v":8.5},{"s":"MIPS 132674","t":0.014,"v":4},{"s":"MIPS 132674","t":0.0148,"v":2},{"s":"MIPS 132674","t":0.0155,"v":3.5},{"s":"MIPS 132674","t":0.016,"v":4.2},{"s":"MIPS 132674","t":0.017,"v":4.6},{"s":"MIPS 132674","t":0.018,"v":5},{"s":"MIPS 132674","t":0.019,"v":5.3},{"s":"MIPS 132674","t":0.02,"v":5}
]},
"mark":{"type":"line","interpolate":"monotone","strokeWidth":2},
"encoding":{
"x":{"field":"t","type":"quantitative","title":"Time [s]","scale":{"domain":[0,0.02],"range":[54,241],"nice":false},"axis":{"values":[0,0.01,0.02],"labelExpr":"replace(format(datum.value,'~g'),'.',',')"}},
"y":{"field":"v","type":"quantitative","title":"Translational Acceleration [g]","scale":{"domain":[0,160],"range":[258,57],"nice":false},"axis":{"values":[0,20,40,60,80,100,120,140,160],"offset":-54,"titleX":-38,"labelExpr":"replace(format(datum.value,'~g'),'.',',')"}},
"color":{"field":"s","type":"nominal","scale":{"domain":["Orig 132675","MIPS 132674"],"range":["#000000","#ff0000"]},"legend":{"title":null,"orient":"none","legendX":262,"legendY":157.5}}}},
{"width":358.5,"height":310,"title":{"text":["Rotational Acceleration, Size Medium,","Pitched impact"]},
"data":{"values":[
{"s":"Orig 132675","t":0,"v":0.1},{"s":"Orig 132675","t":0.001,"v":0},{"s":"Orig 132675","t":0.002,"v":0.1},{"s":"Orig 132675","t":0.0025,"v":0.25},{"s":"Orig 132675","t":0.003,"v":0.5},{"s":"Orig 132675","t":0.0035,"v":1},{"s":"Orig 132675","t":0.004,"v":1.8},{"s":"Orig 132675","t":0.0045,"v":3.4},{"s":"Orig 132675","t":0.005,"v":5.6},{"s":"Orig 132675","t":0.0055,"v":7.5},{"s":"Orig 132675","t":0.006,"v":8.8},{"s":"Orig 132675","t":0.0065,"v":9.8},{"s":"Orig 132675","t":0.007,"v":10.1},{"s":"Orig 132675","t":0.0073,"v":10.2},{"s":"Orig 132675","t":0.0077,"v":9.8},{"s":"Orig 132675","t":0.008,"v":9.2},{"s":"Orig 132675","t":0.0085,"v":7.3},{"s":"Orig 132675","t":0.009,"v":5},{"s":"Orig 132675","t":0.0095,"v":3.2},{"s":"Orig 132675","t":0.01,"v":2.3},{"s":"Orig 132675","t":0.0105,"v":2},{"s":"Orig 132675","t":0.011,"v":2},{"s":"Orig 132675","t":0.012,"v":1.8},{"s":"Orig 132675","t":0.013,"v":1.45},{"s":"Orig 132675","t":0.014,"v":1.05},{"s":"Orig 132675","t":0.015,"v":0.8},{"s":"Orig 132675","t":0.0158,"v":0.85},{"s":"Orig 132675","t":0.0165,"v":0.7},{"s":"Orig 132675","t":0.0175,"v":0.65},{"s":"Orig 132675","t":0.018,"v":0.55},{"s":"Orig 132675","t":0.019,"v":0.35},{"s":"Orig 132675","t":0.02,"v":0.25},
{"s":"MIPS 132674","t":0,"v":0.15},{"s":"MIPS 132674","t":0.001,"v":0.2},{"s":"MIPS 132674","t":0.002,"v":0.15},{"s":"MIPS 132674","t":0.0025,"v":0.25},{"s":"MIPS 132674","t":0.003,"v":0.6},{"s":"MIPS 132674","t":0.0035,"v":1.3},{"s":"MIPS 132674","t":0.004,"v":2.4},{"s":"MIPS 132674","t":0.0045,"v":3.5},{"s":"MIPS 132674","t":0.005,"v":4.3},{"s":"MIPS 132674","t":0.0055,"v":4.8},{"s":"MIPS 132674","t":0.006,"v":5.1},{"s":"MIPS 132674","t":0.0065,"v":5.25},{"s":"MIPS 132674","t":0.007,"v":5.1},{"s":"MIPS 132674","t":0.0075,"v":4.8},{"s":"MIPS 132674","t":0.008,"v":4.5},{"s":"MIPS 132674","t":0.0085,"v":4.2},{"s":"MIPS 132674","t":0.009,"v":3.85},{"s":"MIPS 132674","t":0.0095,"v":3.5},{"s":"MIPS 132674","t":0.01,"v":3.2},{"s":"MIPS 132674","t":0.011,"v":2.6},{"s":"MIPS 132674","t":0.012,"v":2.1},{"s":"MIPS 132674","t":0.013,"v":1.6},{"s":"MIPS 132674","t":0.014,"v":1.1},{"s":"MIPS 132674","t":0.015,"v":0.75},{"s":"MIPS 132674","t":0.016,"v":0.7},{"s":"MIPS 132674","t":0.017,"v":0.6},{"s":"MIPS 132674","t":0.018,"v":0.4},{"s":"MIPS 132674","t":0.019,"v":0.35},{"s":"MIPS 132674","t":0.02,"v":0.3}
]},
"mark":{"type":"line","interpolate":"monotone","strokeWidth":2},
"encoding":{
"x":{"field":"t","type":"quantitative","title":"Time [s]","scale":{"domain":[0,0.02],"range":[46.5,243.5],"nice":false},"axis":{"values":[0,0.01,0.02],"labelExpr":"replace(format(datum.value,'~g'),'.',',')"}},
"y":{"field":"v","type":"quantitative","title":"Rotational Acceleration [krad/s²]","scale":{"domain":[0,12],"range":[258,57],"nice":false},"axis":{"values":[0,2,4,6,8,10,12],"offset":-46.5,"titleX":-32,"labelExpr":"replace(format(datum.value,'~g'),'.',',')"}},
"color":{"field":"s","type":"nominal","scale":{"domain":["Orig 132675","MIPS 132674"],"range":["#000000","#ff0000"]},"legend":{"title":null,"orient":"none","legendX":263,"legendY":157.5}}}},
{"width":358.5,"height":310,"title":{"text":["Rotational Velocity, Size Medium,","Pitched impact"]},
"data":{"values":[
{"s":"Orig 132675","t":0,"v":0.1},{"s":"Orig 132675","t":0.002,"v":0.2},{"s":"Orig 132675","t":0.003,"v":0.4},{"s":"Orig 132675","t":0.0035,"v":0.8},{"s":"Orig 132675","t":0.004,"v":1.5},{"s":"Orig 132675","t":0.0045,"v":2.3},{"s":"Orig 132675","t":0.005,"v":3.8},{"s":"Orig 132675","t":0.0055,"v":6},{"s":"Orig 132675","t":0.006,"v":9.5},{"s":"Orig 132675","t":0.0065,"v":14},{"s":"Orig 132675","t":0.007,"v":18.8},{"s":"Orig 132675","t":0.0075,"v":23.3},{"s":"Orig 132675","t":0.008,"v":27.5},{"s":"Orig 132675","t":0.0085,"v":31},{"s":"Orig 132675","t":0.009,"v":34},{"s":"Orig 132675","t":0.0095,"v":36.2},{"s":"Orig 132675","t":0.01,"v":37.5},{"s":"Orig 132675","t":0.0105,"v":38.1},{"s":"Orig 132675","t":0.011,"v":37.9},{"s":"Orig 132675","t":0.0115,"v":37.3},{"s":"Orig 132675","t":0.012,"v":36.5},{"s":"Orig 132675","t":0.0125,"v":35.6},{"s":"Orig 132675","t":0.013,"v":34.9},{"s":"Orig 132675","t":0.014,"v":33.6},{"s":"Orig 132675","t":0.015,"v":32.7},{"s":"Orig 132675","t":0.016,"v":32.2},{"s":"Orig 132675","t":0.017,"v":31.7},{"s":"Orig 132675","t":0.018,"v":31.2},{"s":"Orig 132675","t":0.019,"v":30.7},{"s":"Orig 132675","t":0.02,"v":30.2},
{"s":"MIPS 132674","t":0,"v":0.1},{"s":"MIPS 132674","t":0.002,"v":0.3},{"s":"MIPS 132674","t":0.003,"v":0.5},{"s":"MIPS 132674","t":0.0035,"v":1},{"s":"MIPS 132674","t":0.004,"v":1.8},{"s":"MIPS 132674","t":0.0045,"v":2.8},{"s":"MIPS 132674","t":0.005,"v":4.3},{"s":"MIPS 132674","t":0.0055,"v":6.3},{"s":"MIPS 132674","t":0.006,"v":9.3},{"s":"MIPS 132674","t":0.0065,"v":12.7},{"s":"MIPS 132674","t":0.007,"v":15.3},{"s":"MIPS 132674","t":0.0075,"v":17.3},{"s":"MIPS 132674","t":0.008,"v":19},{"s":"MIPS 132674","t":0.0085,"v":20.5},{"s":"MIPS 132674","t":0.009,"v":21.9},{"s":"MIPS 132674","t":0.0095,"v":23},{"s":"MIPS 132674","t":0.01,"v":24},{"s":"MIPS 132674","t":0.0105,"v":24.7},{"s":"MIPS 132674","t":0.011,"v":25.1},{"s":"MIPS 132674","t":0.012,"v":25.4},{"s":"MIPS 132674","t":0.013,"v":25.6},{"s":"MIPS 132674","t":0.014,"v":25.9},{"s":"MIPS 132674","t":0.015,"v":26.1},{"s":"MIPS 132674","t":0.016,"v":26.3},{"s":"MIPS 132674","t":0.017,"v":26.3},{"s":"MIPS 132674","t":0.018,"v":26.1},{"s":"MIPS 132674","t":0.019,"v":25.8},{"s":"MIPS 132674","t":0.02,"v":25.5}
]},
"mark":{"type":"line","interpolate":"monotone","strokeWidth":2},
"encoding":{
"x":{"field":"t","type":"quantitative","title":"Time [s]","scale":{"domain":[0,0.02],"range":[47,244],"nice":false},"axis":{"values":[0,0.01,0.02],"labelExpr":"replace(format(datum.value,'~g'),'.',',')"}},
"y":{"field":"v","type":"quantitative","title":"Rotational Velocity [rad/s]","scale":{"domain":[0,40],"range":[258,57],"nice":false},"axis":{"values":[0,5,10,15,20,25,30,35,40],"offset":-47,"titleX":-31,"labelExpr":"replace(format(datum.value,'~g'),'.',',')"}},
"color":{"field":"s","type":"nominal","scale":{"domain":["Orig 132675","MIPS 132674"],"range":["#000000","#ff0000"]},"legend":{"title":null,"orient":"none","legendX":262,"legendY":157.5}}}},
{"width":358.5,"height":310,"title":{"text":["1st Principal Strain, Size Medium,","Pitched impact"]},
"data":{"values":[
{"s":"Orig 132675","t":0,"v":0},{"s":"Orig 132675","t":0.002,"v":0.001},{"s":"Orig 132675","t":0.003,"v":0.002},{"s":"Orig 132675","t":0.004,"v":0.005},{"s":"Orig 132675","t":0.0045,"v":0.01},{"s":"Orig 132675","t":0.005,"v":0.016},{"s":"Orig 132675","t":0.0055,"v":0.026},{"s":"Orig 132675","t":0.006,"v":0.042},{"s":"Orig 132675","t":0.0065,"v":0.07},{"s":"Orig 132675","t":0.007,"v":0.11},{"s":"Orig 132675","t":0.0075,"v":0.16},{"s":"Orig 132675","t":0.008,"v":0.205},{"s":"Orig 132675","t":0.0085,"v":0.262},{"s":"Orig 132675","t":0.009,"v":0.324},{"s":"Orig 132675","t":0.0095,"v":0.373},{"s":"Orig 132675","t":0.01,"v":0.415},{"s":"Orig 132675","t":0.0105,"v":0.44},{"s":"Orig 132675","t":0.011,"v":0.456},{"s":"Orig 132675","t":0.0113,"v":0.46},{"s":"Orig 132675","t":0.0117,"v":0.452},{"s":"Orig 132675","t":0.012,"v":0.44},{"s":"Orig 132675","t":0.0125,"v":0.424},{"s":"Orig 132675","t":0.013,"v":0.404},{"s":"Orig 132675","t":0.0135,"v":0.39},{"s":"Orig 132675","t":0.014,"v":0.367},{"s":"Orig 132675","t":0.0145,"v":0.345},{"s":"Orig 132675","t":0.015,"v":0.327},{"s":"Orig 132675","t":0.0155,"v":0.307},{"s":"Orig 132675","t":0.016,"v":0.29},{"s":"Orig 132675","t":0.0165,"v":0.28},{"s":"Orig 132675","t":0.017,"v":0.266},{"s":"Orig 132675","t":0.0175,"v":0.252},{"s":"Orig 132675","t":0.018,"v":0.236},{"s":"Orig 132675","t":0.0185,"v":0.219},{"s":"Orig 132675","t":0.019,"v":0.21},{"s":"Orig 132675","t":0.0195,"v":0.204},{"s":"Orig 132675","t":0.02,"v":0.196},
{"s":"MIPS 132674","t":0,"v":0},{"s":"MIPS 132674","t":0.002,"v":0.001},{"s":"MIPS 132674","t":0.003,"v":0.002},{"s":"MIPS 132674","t":0.004,"v":0.006},{"s":"MIPS 132674","t":0.0045,"v":0.012},{"s":"MIPS 132674","t":0.005,"v":0.02},{"s":"MIPS 132674","t":0.0055,"v":0.033},{"s":"MIPS 132674","t":0.006,"v":0.052},{"s":"MIPS 132674","t":0.0065,"v":0.08},{"s":"MIPS 132674","t":0.007,"v":0.112},{"s":"MIPS 132674","t":0.0075,"v":0.145},{"s":"MIPS 132674","t":0.008,"v":0.172},{"s":"MIPS 132674","t":0.0085,"v":0.19},{"s":"MIPS 132674","t":0.009,"v":0.217},{"s":"MIPS 132674","t":0.0095,"v":0.257},{"s":"MIPS 132674","t":0.01,"v":0.292},{"s":"MIPS 132674","t":0.0105,"v":0.31},{"s":"MIPS 132674","t":0.011,"v":0.324},{"s":"MIPS 132674","t":0.0115,"v":0.333},{"s":"MIPS 132674","t":0.012,"v":0.338},{"s":"MIPS 132674","t":0.0128,"v":0.34},{"s":"MIPS 132674","t":0.0135,"v":0.333},{"s":"MIPS 132674","t":0.014,"v":0.322},{"s":"MIPS 132674","t":0.0145,"v":0.31},{"s":"MIPS 132674","t":0.015,"v":0.298},{"s":"MIPS 132674","t":0.016,"v":0.278},{"s":"MIPS 132674","t":0.017,"v":0.26},{"s":"MIPS 132674","t":0.018,"v":0.24},{"s":"MIPS 132674","t":0.019,"v":0.219},{"s":"MIPS 132674","t":0.02,"v":0.188}
]},
"mark":{"type":"line","interpolate":"monotone","strokeWidth":2},
"encoding":{
"x":{"field":"t","type":"quantitative","title":"Time [s]","scale":{"domain":[0,0.02],"range":[55.5,247.5],"nice":false},"axis":{"values":[0,0.01,0.02],"labelExpr":"replace(format(datum.value,'~g'),'.',',')"}},
"y":{"field":"v","type":"quantitative","title":"1st Principal Strain [1]","scale":{"domain":[0,0.5],"range":[258,57],"nice":false},"axis":{"values":[0,0.05,0.1,0.15,0.2,0.25,0.3,0.35,0.4,0.45,0.5],"offset":-55.5,"titleX":-41,"labelExpr":"replace(format(datum.value,'~g'),'.',',')"}},
"color":{"field":"s","type":"nominal","scale":{"domain":["Orig 132675","MIPS 132674"],"range":["#000000","#ff0000"]},"legend":{"title":null,"orient":"none","legendX":265,"legendY":157.5}}}}
],"spacing":0,"bounds":"flush","resolve":{"scale":{"color":"independent"},"legend":{"color":"independent"}}},
{"hconcat":[
{"width":358.5,"height":310,"title":{"text":["Translational Acceleration, Size Medium,","Rear impact"]},
"data":{"values":[
{"s":"Orig 132671","t":0,"v":1.5},{"s":"Orig 132671","t":0.001,"v":1},{"s":"Orig 132671","t":0.002,"v":1},{"s":"Orig 132671","t":0.0025,"v":1.5},{"s":"Orig 132671","t":0.003,"v":5},{"s":"Orig 132671","t":0.0035,"v":25},{"s":"Orig 132671","t":0.004,"v":58},{"s":"Orig 132671","t":0.0045,"v":90},{"s":"Orig 132671","t":0.005,"v":104},{"s":"Orig 132671","t":0.0055,"v":115},{"s":"Orig 132671","t":0.006,"v":128},{"s":"Orig 132671","t":0.0065,"v":150},{"s":"Orig 132671","t":0.0069,"v":170},{"s":"Orig 132671","t":0.0072,"v":174},{"s":"Orig 132671","t":0.0075,"v":168},{"s":"Orig 132671","t":0.008,"v":145},{"s":"Orig 132671","t":0.0085,"v":111},{"s":"Orig 132671","t":0.009,"v":70},{"s":"Orig 132671","t":0.0095,"v":42},{"s":"Orig 132671","t":0.01,"v":24},{"s":"Orig 132671","t":0.0105,"v":14},{"s":"Orig 132671","t":0.011,"v":9},{"s":"Orig 132671","t":0.0115,"v":5},{"s":"Orig 132671","t":0.012,"v":3},{"s":"Orig 132671","t":0.0125,"v":2},{"s":"Orig 132671","t":0.013,"v":2.5},{"s":"Orig 132671","t":0.014,"v":3.3},{"s":"Orig 132671","t":0.015,"v":3.3},{"s":"Orig 132671","t":0.016,"v":2.5},{"s":"Orig 132671","t":0.017,"v":2.2},{"s":"Orig 132671","t":0.018,"v":3},{"s":"Orig 132671","t":0.019,"v":3.6},{"s":"Orig 132671","t":0.02,"v":4.3},
{"s":"MIPS 132670","t":0,"v":1.5},{"s":"MIPS 132670","t":0.001,"v":1},{"s":"MIPS 132670","t":0.002,"v":1},{"s":"MIPS 132670","t":0.0025,"v":1.5},{"s":"MIPS 132670","t":0.003,"v":6},{"s":"MIPS 132670","t":0.0035,"v":28},{"s":"MIPS 132670","t":0.004,"v":62},{"s":"MIPS 132670","t":0.0045,"v":105},{"s":"MIPS 132670","t":0.005,"v":120},{"s":"MIPS 132670","t":0.0055,"v":135},{"s":"MIPS 132670","t":0.006,"v":151},{"s":"MIPS 132670","t":0.0065,"v":164},{"s":"MIPS 132670","t":0.0069,"v":172},{"s":"MIPS 132670","t":0.0072,"v":168},{"s":"MIPS 132670","t":0.0075,"v":148},{"s":"MIPS 132670","t":0.008,"v":110},{"s":"MIPS 132670","t":0.0085,"v":72},{"s":"MIPS 132670","t":0.009,"v":47},{"s":"MIPS 132670","t":0.0095,"v":32},{"s":"MIPS 132670","t":0.01,"v":20},{"s":"MIPS 132670","t":0.0105,"v":11},{"s":"MIPS 132670","t":0.011,"v":6.5},{"s":"MIPS 132670","t":0.0115,"v":4},{"s":"MIPS 132670","t":0.012,"v":2.5},{"s":"MIPS 132670","t":0.0126,"v":1.7},{"s":"MIPS 132670","t":0.013,"v":2},{"s":"MIPS 132670","t":0.014,"v":3.3},{"s":"MIPS 132670","t":0.015,"v":3.8},{"s":"MIPS 132670","t":0.016,"v":4},{"s":"MIPS 132670","t":0.017,"v":4},{"s":"MIPS 132670","t":0.018,"v":4},{"s":"MIPS 132670","t":0.019,"v":4.2},{"s":"MIPS 132670","t":0.02,"v":4.6}
]},
"mark":{"type":"line","interpolate":"monotone","strokeWidth":2},
"encoding":{
"x":{"field":"t","type":"quantitative","title":"Time [s]","scale":{"domain":[0,0.02],"range":[54,241],"nice":false},"axis":{"values":[0,0.01,0.02],"labelExpr":"replace(format(datum.value,'~g'),'.',',')"}},
"y":{"field":"v","type":"quantitative","title":"Translational Acceleration [g]","scale":{"domain":[0,200],"range":[258,57],"nice":false},"axis":{"values":[0,20,40,60,80,100,120,140,160,180,200],"offset":-54,"titleX":-38,"labelExpr":"replace(format(datum.value,'~g'),'.',',')"}},
"color":{"field":"s","type":"nominal","scale":{"domain":["Orig 132671","MIPS 132670"],"range":["#000000","#ff0000"]},"legend":{"title":null,"orient":"none","legendX":262,"legendY":157.5}}}},
{"width":358.5,"height":310,"title":{"text":["Rotational Acceleration, Size Medium,","Rear impact"]},
"data":{"values":[
{"s":"Orig 132671","t":0,"v":0.15},{"s":"Orig 132671","t":0.001,"v":0.2},{"s":"Orig 132671","t":0.0015,"v":0.15},{"s":"Orig 132671","t":0.0023,"v":0.1},{"s":"Orig 132671","t":0.0028,"v":0.27},{"s":"Orig 132671","t":0.0033,"v":1.2},{"s":"Orig 132671","t":0.0037,"v":2.6},{"s":"Orig 132671","t":0.0042,"v":3.5},{"s":"Orig 132671","t":0.0046,"v":3.8},{"s":"Orig 132671","t":0.0051,"v":3.7},{"s":"Orig 132671","t":0.0055,"v":3.55},{"s":"Orig 132671","t":0.006,"v":4.6},{"s":"Orig 132671","t":0.0064,"v":6.4},{"s":"Orig 132671","t":0.0069,"v":7.5},{"s":"Orig 132671","t":0.0072,"v":8},{"s":"Orig 132671","t":0.0075,"v":7.8},{"s":"Orig 132671","t":0.0078,"v":7.3},{"s":"Orig 132671","t":0.0082,"v":5.3},{"s":"Orig 132671","t":0.0087,"v":3.4},{"s":"Orig 132671","t":0.0091,"v":1.9},{"s":"Orig 132671","t":0.0098,"v":1},{"s":"Orig 132671","t":0.0107,"v":1},{"s":"Orig 132671","t":0.0116,"v":0.86},{"s":"Orig 132671","t":0.0125,"v":0.4},{"s":"Orig 132671","t":0.0129,"v":0.27},{"s":"Orig 132671","t":0.0138,"v":0.64},{"s":"Orig 132671","t":0.0147,"v":0.71},{"s":"Orig 132671","t":0.0161,"v":0.76},{"s":"Orig 132671","t":0.0174,"v":0.79},{"s":"Orig 132671","t":0.0179,"v":0.86},{"s":"Orig 132671","t":0.0188,"v":0.74},{"s":"Orig 132671","t":0.02,"v":0.6},
{"s":"MIPS 132670","t":0,"v":0.1},{"s":"MIPS 132670","t":0.001,"v":0.15},{"s":"MIPS 132670","t":0.0023,"v":0.1},{"s":"MIPS 132670","t":0.0031,"v":0.35},{"s":"MIPS 132670","t":0.004,"v":1.2},{"s":"MIPS 132670","t":0.0046,"v":1.75},{"s":"MIPS 132670","t":0.0053,"v":1.95},{"s":"MIPS 132670","t":0.006,"v":2.3},{"s":"MIPS 132670","t":0.0067,"v":3.1},{"s":"MIPS 132670","t":0.0073,"v":4.1},{"s":"MIPS 132670","t":0.0078,"v":4.3},{"s":"MIPS 132670","t":0.0084,"v":3.5},{"s":"MIPS 132670","t":0.0093,"v":2.6},{"s":"MIPS 132670","t":0.0102,"v":1.9},{"s":"MIPS 132670","t":0.0111,"v":1.45},{"s":"MIPS 132670","t":0.012,"v":1},{"s":"MIPS 132670","t":0.0129,"v":0.7},{"s":"MIPS 132670","t":0.0141,"v":0.67},{"s":"MIPS 132670","t":0.0152,"v":0.34},{"s":"MIPS 132670","t":0.0161,"v":0.4},{"s":"MIPS 132670","t":0.0174,"v":0.53},{"s":"MIPS 132670","t":0.0183,"v":0.6},{"s":"MIPS 132670","t":0.0192,"v":0.5},{"s":"MIPS 132670","t":0.02,"v":0.34}
]},
"mark":{"type":"line","interpolate":"monotone","strokeWidth":2},
"encoding":{
"x":{"field":"t","type":"quantitative","title":"Time [s]","scale":{"domain":[0,0.02],"range":[39.5,243.5],"nice":false},"axis":{"values":[0,0.01,0.02],"labelExpr":"replace(format(datum.value,'~g'),'.',',')"}},
"y":{"field":"v","type":"quantitative","title":"Rotational Acceleration [krad/s²]","scale":{"domain":[0,9],"range":[258,57],"nice":false},"axis":{"values":[0,1,2,3,4,5,6,7,8,9],"offset":-39.5,"titleX":-25,"labelExpr":"replace(format(datum.value,'~g'),'.',',')"}},
"color":{"field":"s","type":"nominal","scale":{"domain":["Orig 132671","MIPS 132670"],"range":["#000000","#ff0000"]},"legend":{"title":null,"orient":"none","legendX":263,"legendY":157.5}}}},
{"width":358.5,"height":310,"title":{"text":["Rotational Velocity, Size Medium,","Rear impact"]},
"data":{"values":[
{"s":"Orig 132671","t":0,"v":0.2},{"s":"Orig 132671","t":0.002,"v":0.4},{"s":"Orig 132671","t":0.003,"v":0.5},{"s":"Orig 132671","t":0.0035,"v":0.7},{"s":"Orig 132671","t":0.004,"v":1.3},{"s":"Orig 132671","t":0.0045,"v":3},{"s":"Orig 132671","t":0.005,"v":5.2},{"s":"Orig 132671","t":0.0055,"v":7},{"s":"Orig 132671","t":0.006,"v":8.8},{"s":"Orig 132671","t":0.0065,"v":11},{"s":"Orig 132671","t":0.007,"v":14.4},{"s":"Orig 132671","t":0.0075,"v":19},{"s":"Orig 132671","t":0.008,"v":22.8},{"s":"Orig 132671","t":0.0085,"v":25.3},{"s":"Orig 132671","t":0.009,"v":27},{"s":"Orig 132671","t":0.0095,"v":27.9},{"s":"Orig 132671","t":0.01,"v":28.4},{"s":"Orig 132671","t":0.011,"v":28.9},{"s":"Orig 132671","t":0.012,"v":29.2},{"s":"Orig 132671","t":0.013,"v":29.5},{"s":"Orig 132671","t":0.014,"v":29.2},{"s":"Orig 132671","t":0.015,"v":28.6},{"s":"Orig 132671","t":0.016,"v":28},{"s":"Orig 132671","t":0.017,"v":27.3},{"s":"Orig 132671","t":0.018,"v":26.5},{"s":"Orig 132671","t":0.019,"v":25.7},{"s":"Orig 132671","t":0.02,"v":25},
{"s":"MIPS 132670","t":0,"v":0.1},{"s":"MIPS 132670","t":0.002,"v":0.3},{"s":"MIPS 132670","t":0.003,"v":0.4},{"s":"MIPS 132670","t":0.0035,"v":0.6},{"s":"MIPS 132670","t":0.004,"v":1},{"s":"MIPS 132670","t":0.0045,"v":1.8},{"s":"MIPS 132670","t":0.005,"v":2.7},{"s":"MIPS 132670","t":0.0055,"v":3.7},{"s":"MIPS 132670","t":0.006,"v":5},{"s":"MIPS 132670","t":0.0065,"v":6.3},{"s":"MIPS 132670","t":0.007,"v":7.6},{"s":"MIPS 132670","t":0.0075,"v":9.6},{"s":"MIPS 132670","t":0.008,"v":12},{"s":"MIPS 132670","t":0.0085,"v":14.4},{"s":"MIPS 132670","t":0.009,"v":16.3},{"s":"MIPS 132670","t":0.0095,"v":17.7},{"s":"MIPS 132670","t":0.01,"v":19},{"s":"MIPS 132670","t":0.011,"v":20.3},{"s":"MIPS 132670","t":0.012,"v":21},{"s":"MIPS 132670","t":0.013,"v":21.5},{"s":"MIPS 132670","t":0.014,"v":21.8},{"s":"MIPS 132670","t":0.015,"v":22},{"s":"MIPS 132670","t":0.016,"v":21.8},{"s":"MIPS 132670","t":0.017,"v":21.4},{"s":"MIPS 132670","t":0.018,"v":21},{"s":"MIPS 132670","t":0.019,"v":20.6},{"s":"MIPS 132670","t":0.02,"v":20.1}
]},
"mark":{"type":"line","interpolate":"monotone","strokeWidth":2},
"encoding":{
"x":{"field":"t","type":"quantitative","title":"Time [s]","scale":{"domain":[0,0.02],"range":[47,244],"nice":false},"axis":{"values":[0,0.01,0.02],"labelExpr":"replace(format(datum.value,'~g'),'.',',')"}},
"y":{"field":"v","type":"quantitative","title":"Rotational Velocity [rad/s]","scale":{"domain":[0,35],"range":[258,57],"nice":false},"axis":{"values":[0,5,10,15,20,25,30,35],"offset":-47,"titleX":-31,"labelExpr":"replace(format(datum.value,'~g'),'.',',')"}},
"color":{"field":"s","type":"nominal","scale":{"domain":["Orig 132671","MIPS 132670"],"range":["#000000","#ff0000"]},"legend":{"title":null,"orient":"none","legendX":262,"legendY":157.5}}}},
{"width":358.5,"height":310,"title":{"text":["1st Principal Strain, Size Medium,","Rear impact"]},
"data":{"values":[
{"s":"Orig 132671","t":0,"v":0},{"s":"Orig 132671","t":0.002,"v":0.001},{"s":"Orig 132671","t":0.003,"v":0.003},{"s":"Orig 132671","t":0.0035,"v":0.004},{"s":"Orig 132671","t":0.004,"v":0.006},{"s":"Orig 132671","t":0.0045,"v":0.015},{"s":"Orig 132671","t":0.005,"v":0.027},{"s":"Orig 132671","t":0.0055,"v":0.04},{"s":"Orig 132671","t":0.006,"v":0.056},{"s":"Orig 132671","t":0.0065,"v":0.075},{"s":"Orig 132671","t":0.007,"v":0.104},{"s":"Orig 132671","t":0.0075,"v":0.135},{"s":"Orig 132671","t":0.008,"v":0.168},{"s":"Orig 132671","t":0.0085,"v":0.202},{"s":"Orig 132671","t":0.009,"v":0.237},{"s":"Orig 132671","t":0.0095,"v":0.27},{"s":"Orig 132671","t":0.01,"v":0.297},{"s":"Orig 132671","t":0.0105,"v":0.31},{"s":"Orig 132671","t":0.0108,"v":0.313},{"s":"Orig 132671","t":0.0112,"v":0.308},{"s":"Orig 132671","t":0.012,"v":0.293},{"s":"Orig 132671","t":0.0125,"v":0.288},{"s":"Orig 132671","t":0.013,"v":0.285},{"s":"Orig 132671","t":0.0135,"v":0.28},{"s":"Orig 132671","t":0.014,"v":0.27},{"s":"Orig 132671","t":0.0145,"v":0.257},{"s":"Orig 132671","t":0.015,"v":0.243},{"s":"Orig 132671","t":0.016,"v":0.215},{"s":"Orig 132671","t":0.017,"v":0.18},{"s":"Orig 132671","t":0.018,"v":0.142},{"s":"Orig 132671","t":0.019,"v":0.11},{"s":"Orig 132671","t":0.02,"v":0.086},
{"s":"MIPS 132670","t":0,"v":0},{"s":"MIPS 132670","t":0.002,"v":0.001},{"s":"MIPS 132670","t":0.003,"v":0.003},{"s":"MIPS 132670","t":0.004,"v":0.004},{"s":"MIPS 132670","t":0.0045,"v":0.006},{"s":"MIPS 132670","t":0.005,"v":0.011},{"s":"MIPS 132670","t":0.0055,"v":0.017},{"s":"MIPS 132670","t":0.006,"v":0.024},{"s":"MIPS 132670","t":0.0065,"v":0.032},{"s":"MIPS 132670","t":0.007,"v":0.043},{"s":"MIPS 132670","t":0.0075,"v":0.054},{"s":"MIPS 132670","t":0.008,"v":0.067},{"s":"MIPS 132670","t":0.0085,"v":0.094},{"s":"MIPS 132670","t":0.009,"v":0.116},{"s":"MIPS 132670","t":0.0095,"v":0.138},{"s":"MIPS 132670","t":0.01,"v":0.153},{"s":"MIPS 132670","t":0.0105,"v":0.167},{"s":"MIPS 132670","t":0.011,"v":0.181},{"s":"MIPS 132670","t":0.0115,"v":0.191},{"s":"MIPS 132670","t":0.012,"v":0.196},{"s":"MIPS 132670","t":0.013,"v":0.2},{"s":"MIPS 132670","t":0.014,"v":0.201},{"s":"MIPS 132670","t":0.015,"v":0.2},{"s":"MIPS 132670","t":0.016,"v":0.195},{"s":"MIPS 132670","t":0.017,"v":0.184},{"s":"MIPS 132670","t":0.018,"v":0.165},{"s":"MIPS 132670","t":0.019,"v":0.145},{"s":"MIPS 132670","t":0.02,"v":0.121}
]},
"mark":{"type":"line","interpolate":"monotone","strokeWidth":2},
"encoding":{
"x":{"field":"t","type":"quantitative","title":"Time [s]","scale":{"domain":[0,0.02],"range":[55.5,247.5],"nice":false},"axis":{"values":[0,0.01,0.02],"labelExpr":"replace(format(datum.value,'~g'),'.',',')"}},
"y":{"field":"v","type":"quantitative","title":"1st Principal Strain [1]","scale":{"domain":[0,0.35],"range":[258,57],"nice":false},"axis":{"values":[0,0.05,0.1,0.15,0.2,0.25,0.3,0.35],"offset":-55.5,"titleX":-41,"labelExpr":"replace(format(datum.value,'~g'),'.',',')"}},
"color":{"field":"s","type":"nominal","scale":{"domain":["Orig 132671","MIPS 132670"],"range":["#000000","#ff0000"]},"legend":{"title":null,"orient":"none","legendX":265,"legendY":157.5}}}}
],"spacing":0,"bounds":"flush","resolve":{"scale":{"color":"independent"},"legend":{"color":"independent"}}}
]}
]}
]}
]}
],
"config":{
"view":{"stroke":"#d6d6d6","strokeWidth":1.5},
"title":{"font":"Liberation Sans","fontSize":14.5,"fontWeight":"normal","color":"#333333","offset":-41.5,"frame":"group","anchor":"middle","lineHeight":17},
"axisX":{"offset":-52,"grid":false,"domain":false,"ticks":false,"labelPadding":12,"labelFont":"Liberation Sans","labelFontSize":12,"labelColor":"#333333","labelFlush":false,"titleFont":"Liberation Sans","titleFontSize":13,"titleFontWeight":"normal","titleColor":"#333333","titleY":35,"titleBaseline":"middle"},
"axisY":{"grid":true,"gridColor":"#c4c4c4","gridWidth":1.5,"domain":true,"domainColor":"#cfcfcf","domainWidth":1.5,"ticks":false,"labelPadding":9,"labelFont":"Liberation Sans","labelFontSize":12,"labelColor":"#333333","titleFont":"DejaVu Sans","titleFontSize":12.5,"titleFontWeight":"normal","titleColor":"#333333","titleY":157.5,"titleBaseline":"middle","titleAlign":"center","titleAngle":-90},
"legend":{"symbolType":"stroke","symbolSize":225,"symbolStrokeWidth":2.5,"padding":2,"rowPadding":5,"labelOffset":1,"strokeColor":"#555555","fillColor":"#ffffff","labelFont":"DejaVu Sans","labelFontSize":11,"labelColor":"#222222","labelLimit":200}
}
}
